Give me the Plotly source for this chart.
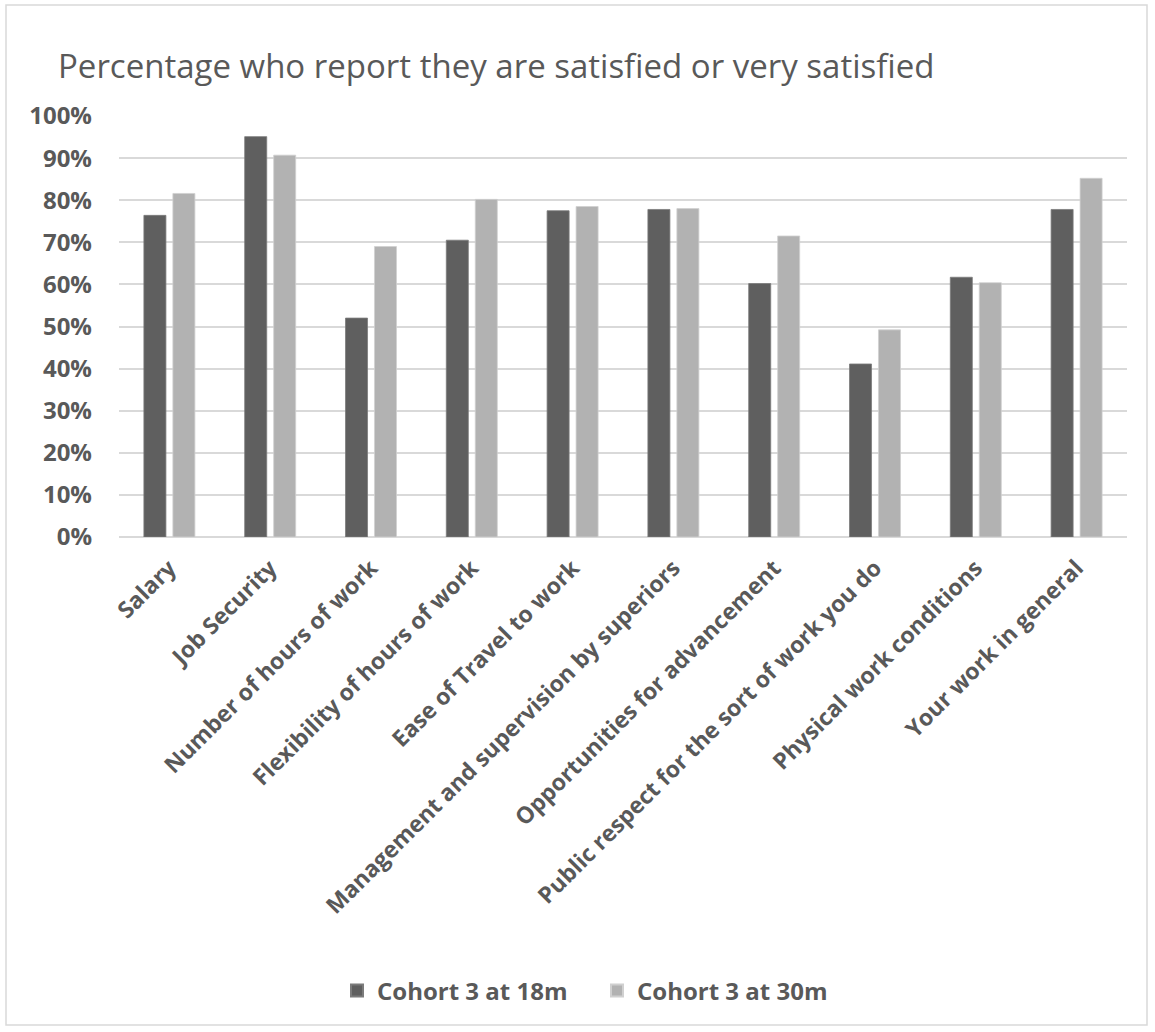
import plotly.graph_objects as go

categories = [
    "Salary",
    "Job Security",
    "Number of hours of work",
    "Flexibility of hours of work",
    "Ease of Travel to work",
    "Management and supervision by superiors",
    "Opportunities for advancement",
    "Public respect for the sort of work you do",
    "Physical work conditions",
    "Your work in general",
]
cohort3_18m = [0.764, 0.951, 0.520, 0.705, 0.775, 0.778, 0.602, 0.411, 0.617, 0.778]
cohort3_30m = [0.816, 0.907, 0.690, 0.802, 0.785, 0.780, 0.715, 0.492, 0.604, 0.852]
series_names = ["Cohort 3 at 18m", "Cohort 3 at 30m"]
y_ticks = [i / 10 for i in range(11)]
y_tick_labels = [f"{i * 10}%" for i in range(11)]

W, H = 1155, 1032
ML, MR, MT, MB = 119, 28, 116, 495
PW = W - ML - MR
PH = H - MT - MB

TXT = "#595959"
FONT = "Open Sans"

fig = go.Figure()
fig.add_trace(go.Bar(
    x=categories, y=cohort3_18m, name=series_names[0],
    marker=dict(color="#5f5f5f", line=dict(color="#7b7b7b", width=0.8)),
))
fig.add_trace(go.Bar(
    x=categories, y=cohort3_30m, name=series_names[1],
    marker=dict(color="#b2b2b2", line=dict(color="#d0d0d0", width=0.8)),
))

def px_x(p):
    return (p - ML) / PW

def px_y(p):
    return (H - MB - p) / PH

# outer chart border
fig.add_shape(type="rect", xref="paper", yref="paper",
              x0=px_x(6), x1=px_x(1147), y0=px_y(1025), y1=px_y(5),
              line=dict(color="#d9d9d9", width=1.5), fillcolor="rgba(0,0,0,0)", layer="below")

fig.update_layout(
    width=W, height=H,
    margin=dict(l=ML, r=MR, t=MT, b=MB),
    paper_bgcolor="white", plot_bgcolor="white",
    barmode="group", bargap=0.425, bargroupgap=0.24,
    title=dict(
        text="Percentage who report they are satisfied or very satisfied",
        font=dict(family=FONT, size=33, color=TXT),
        x=58 / W, xref="container", xanchor="left",
        y=1 - 66 / H, yref="container", yanchor="middle",
    ),
    font=dict(family=FONT, color=TXT),
    legend=dict(
        orientation="h", x=px_x(597), xanchor="center",
        y=px_y(991), yanchor="middle",
        font=dict(family=FONT, size=24, color=TXT, weight=700),
        itemsizing="constant", traceorder="normal",
        entrywidth=215, entrywidthmode="pixels", itemwidth=30,
    ),
    xaxis=dict(
        tickangle=-45, showgrid=False, showline=False, zeroline=False,
        tickfont=dict(family=FONT, size=23, color=TXT, weight=700),
        ticklabelstandoff=12, fixedrange=True,
    ),
    yaxis=dict(
        range=[0, 1], tickvals=y_ticks, ticktext=y_tick_labels,
        showgrid=True, gridcolor="#d9d9d9", gridwidth=2,
        zeroline=True, zerolinecolor="#d9d9d9", zerolinewidth=2,
        showline=False,
        tickfont=dict(family=FONT, size=24, color=TXT, weight=700),
        ticklabelstandoff=26, fixedrange=True,
    ),
)

fig.write_html("out.html")
